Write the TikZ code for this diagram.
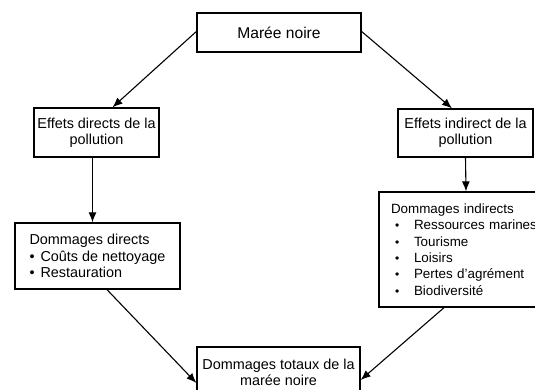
\documentclass[tikz,border=0pt]{standalone}
\usepackage{fontspec}
\setmainfont{Liberation Sans}
\usetikzlibrary{arrows.meta}
\newcommand\puce{\makebox[11pt][l]{\textbullet}}
\newcommand\pucei{\hspace{4pt}\makebox[19pt][l]{\fontsize{12}{12}\selectfont\textbullet}}
\begin{document}
\begin{tikzpicture}[x=1pt,y=-1pt,
	box/.style={draw, line width=1.3pt, inner sep=0pt, font=\fontsize{14.4}{16.4}\selectfont},
	flow/.style={-{Latex[length=10pt,width=8pt]}, line width=1.1pt}]
	\useasboundingbox (0,0) rectangle (535,390);
	\clip (0,0) rectangle (535,390);
	\node[box, minimum width=164pt, minimum height=39pt, font=\fontsize{15.6}{18}\selectfont] (mare) at (279,32.5) {Marée noire};
	\node[box, minimum width=125pt, minimum height=49pt, align=center] (effd) at (96.5,132.5) {Effets directs de la\\pollution};
	\node[box, minimum width=135pt, minimum height=48pt, align=center] (effi) at (465.5,133) {Effets indirect de la\\pollution};
	\node[box, minimum width=165pt, minimum height=66pt, align=left] (domd) at (97.5,256) {Dommages directs\\\puce Coûts de nettoyage\\\puce Restauration};
	\node[box, minimum width=189pt, minimum height=115pt, text width=165pt, align=left, font=\fontsize{13.4}{16.4}\selectfont] (domi) at (473.5,249.5) {Dommages indirects\\\pucei Ressources marines\\\pucei Tourisme\\\pucei Loisirs\\\pucei Pertes d’agrément\\\pucei Biodiversité};
	\node[box, minimum width=163pt, minimum height=51pt, align=center] (domt) at (278.5,372.5) {Dommages totaux de la\\marée noire};
	% fleches
	\draw[flow] ([yshift=1pt]mare.west) -- ([xshift=16pt]effd.north);
	\draw[flow] ([yshift=1pt]mare.east) -- ([xshift=-13.5pt]effi.north);
	\draw[flow] ([xshift=-4pt]effd.south) -- ([xshift=-5pt]domd.north);
	\draw[flow] (effi.south) -- ([xshift=-7.5pt]domi.north);
	\draw[flow] ([xshift=9.5pt]domd.south) -- ([yshift=-10.5pt]domt.west);
	\draw[flow] ([xshift=-29.5pt]domi.south) -- ([yshift=-7.5pt]domt.east);
\end{tikzpicture}
\end{document}
